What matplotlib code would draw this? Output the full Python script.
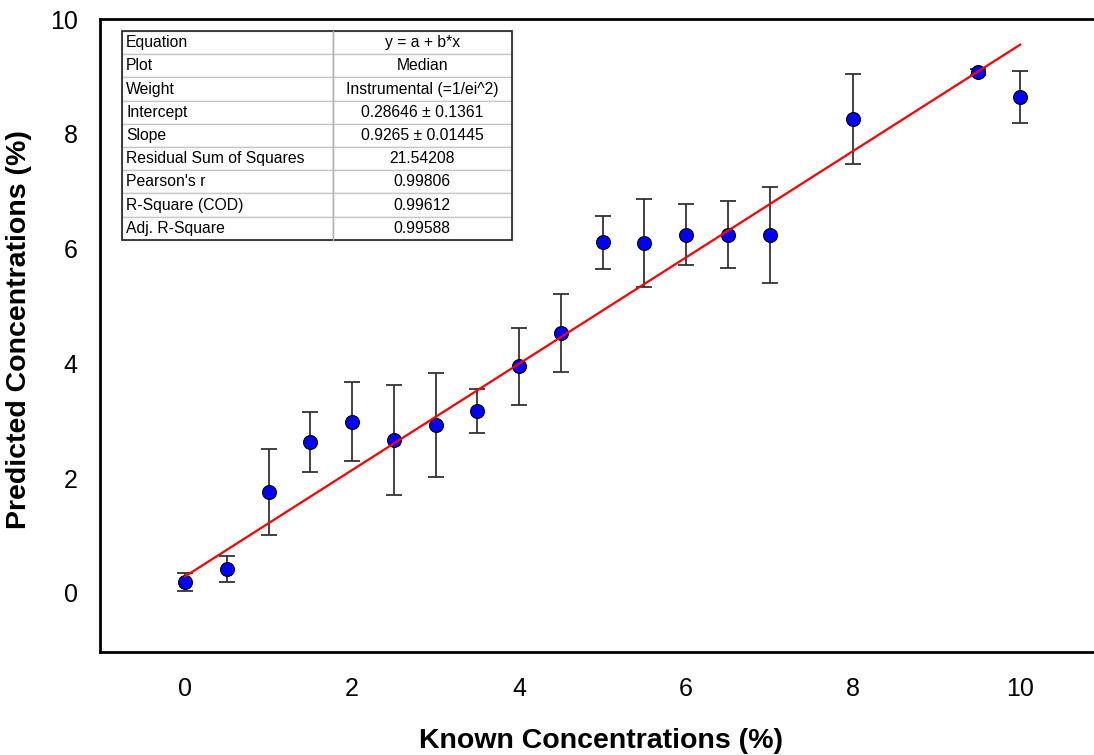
import matplotlib
matplotlib.use("Agg")
import matplotlib.pyplot as plt
import numpy as np

plt.rcParams["font.family"] = ["Liberation Sans", "DejaVu Sans"]

# --- data --------------------------------------------------------------------
known = [0, 0.5, 1, 1.5, 2, 2.5, 3, 3.5, 4, 4.5, 5, 5.5, 6, 6.5, 7, 8, 9.5, 10]
predicted = [0.19, 0.42, 1.76, 2.63, 2.98, 2.67, 2.93, 3.17, 3.95, 4.53,
             6.11, 6.10, 6.24, 6.24, 6.24, 8.26, 9.08, 8.64]
err = [0.16, 0.23, 0.75, 0.53, 0.69, 0.96, 0.91, 0.38, 0.67, 0.68,
       0.46, 0.77, 0.53, 0.58, 0.84, 0.79, 0.05, 0.45]

intercept = 0.28646
slope = 0.9265

table_keys = ["Equation", "Plot", "Weight", "Intercept", "Slope",
              "Residual Sum of Squares", "Pearson's r", "R-Square (COD)",
              "Adj. R-Square"]
table_vals = ["y = a + b*x", "Median", "Instrumental (=1/ei^2)",
              "0.28646 \u00b1 0.1361", "0.9265 \u00b1 0.01445", "21.54208",
              "0.99806", "0.99612", "0.99588"]

# --- figure ------------------------------------------------------------------
fig = plt.figure(figsize=(10.94, 7.55), dpi=100)
ax = fig.add_axes([100 / 1094, 103 / 755, 994 / 1094, 633 / 755])

ax.errorbar(known, predicted, yerr=err, fmt="none", ecolor="#333333",
            elinewidth=1.3, capsize=5.5, capthick=1.3, zorder=2)
ax.plot(known, predicted, "o", ms=10, mfc="#0000ff", mec="#000000",
        mew=0.8, zorder=3)

fx = np.array([0, 10])
ax.plot(fx, intercept + slope * fx, color="#ff0000", lw=1.6, zorder=4)

ax.set_xlim(-1.018, 10.886)
ax.set_ylim(-1.03, 10)
ax.set_xticks([0, 2, 4, 6, 8, 10])
ax.set_yticks([0, 2, 4, 6, 8, 10])
ax.tick_params(length=0, labelsize=18, pad=16)
ax.tick_params(axis="x", pad=18)

for s in ["left", "bottom", "top"]:
    ax.spines[s].set_linewidth(2)
ax.spines["right"].set_visible(False)

ax.set_xlabel("Known Concentrations (%)", fontsize=20.5, fontweight="bold")
ax.set_ylabel("Predicted Concentrations (%)", fontsize=20.5, fontweight="bold")
ax.xaxis.set_label_coords(0.504, -0.12)
ax.yaxis.set_label_coords(-0.068, 0.509)

# fit summary table
tbl = ax.table(cellText=[[k, v] for k, v in zip(table_keys, table_vals)],
               colWidths=[0.541, 0.459], cellLoc="left",
               bbox=[0.0221, 0.651, 0.392, 0.330], zorder=5)
tbl.auto_set_font_size(False)
for (r, c), cell in tbl.get_celld().items():
    cell.set_edgecolor("#c8c8c8")
    cell.set_linewidth(1)
    cell.set_facecolor("white")
    cell.get_text().set_fontsize(11.3)
    if c == 1:
        cell.get_text().set_horizontalalignment("center")
        cell._loc = "center"
    else:
        cell.PAD = 0.02
ax.add_patch(plt.Rectangle((0.0221, 0.651), 0.392, 0.330, fill=False,
                           ec="#202020", lw=1.2, transform=ax.transAxes,
                           zorder=6))
ax.plot([0.0221 + 0.392 * 0.541] * 2, [0.651, 0.981], color="#b0b0b0",
        lw=1, transform=ax.transAxes, zorder=6)

fig.savefig("out.png", dpi=100)
